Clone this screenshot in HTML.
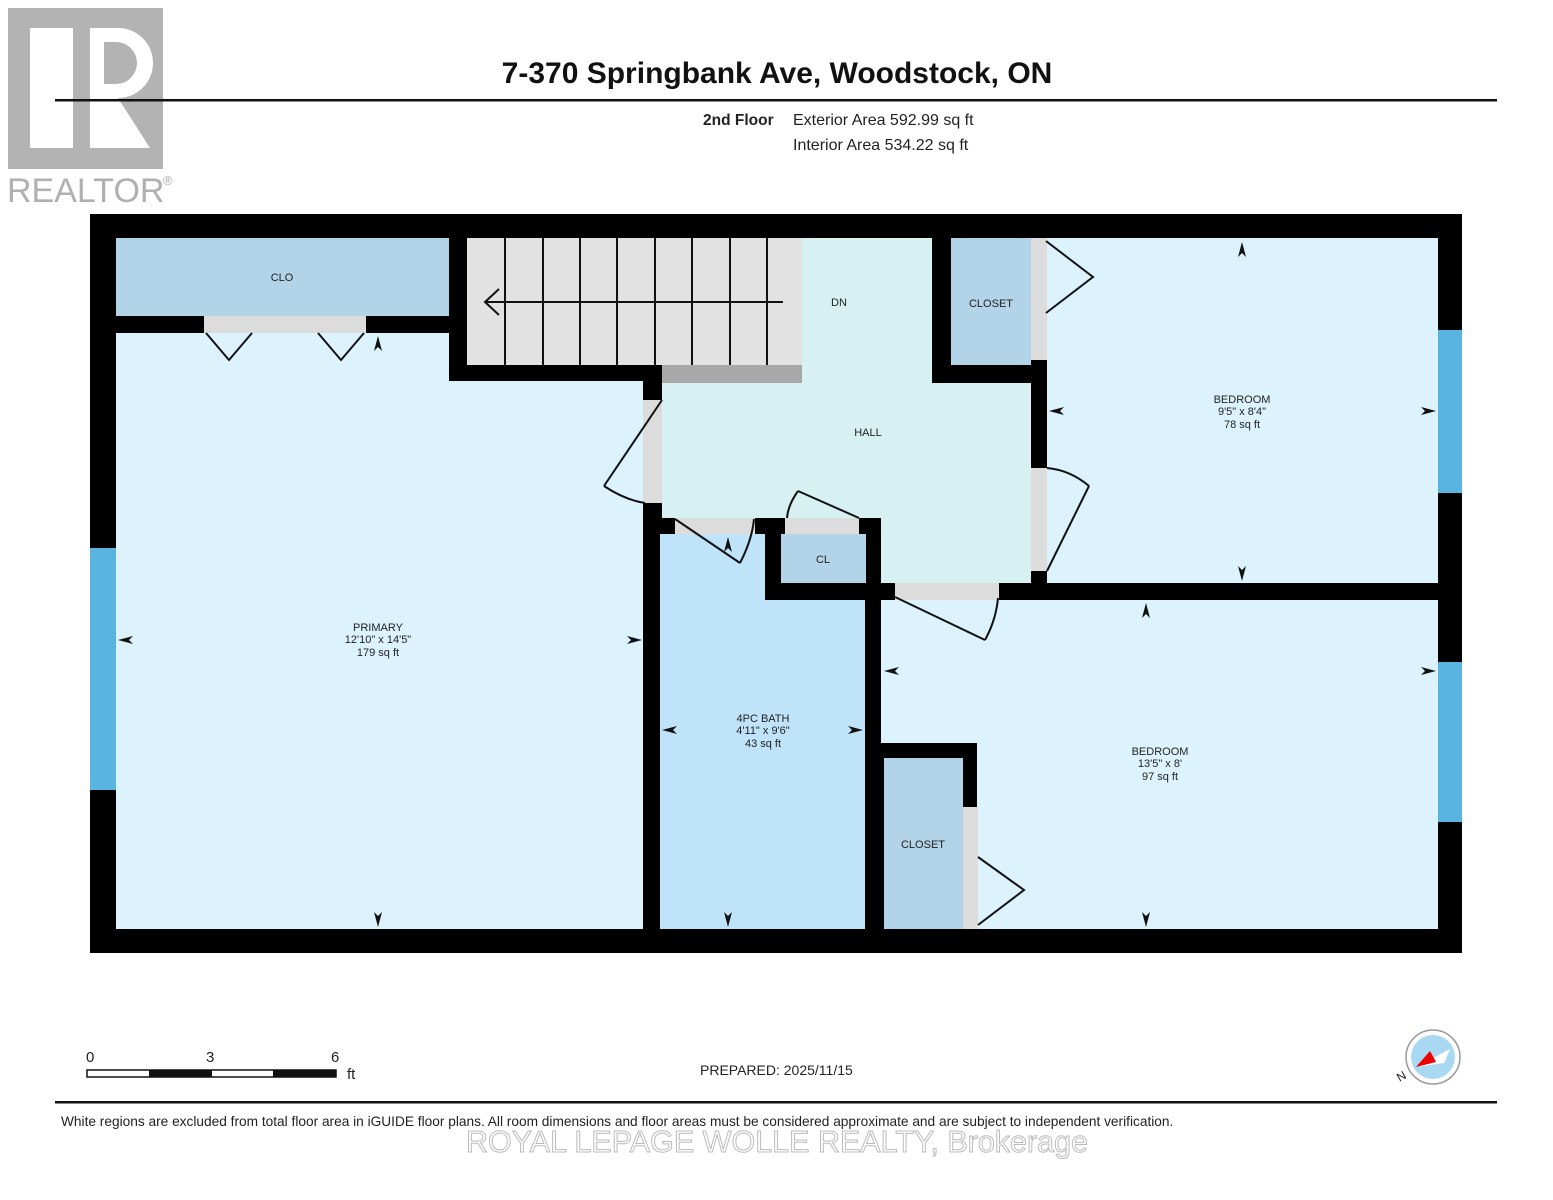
<!DOCTYPE html>
<html><head><meta charset="utf-8"><style>
html,body{margin:0;padding:0;background:#fff;}
svg{display:block;font-family:"Liberation Sans",Arial,sans-serif;}
</style></head><body>
<svg width="1553" height="1200" viewBox="0 0 1553 1200" xmlns="http://www.w3.org/2000/svg">
<rect width="1553" height="1200" fill="#fff"/>
<!-- Realtor logo -->
<rect x="8" y="8" width="155" height="161" fill="#b3b3b3"/>
<rect x="30" y="28" width="43" height="120" fill="#fff"/>
<path d="M90 28 H118 A35 35 0 0 1 118 98 L150 148 H90 Z" fill="#fff"/>
<path d="M104 42 H116 A21 21 0 0 1 116 84 H104 Z" fill="#b3b3b3"/>
<text x="7" y="202" font-size="34" fill="#b0b0b0">REALTOR</text>
<text x="163" y="185" font-size="13" fill="#b0b0b0">®</text>
<!-- header -->
<text x="777" y="83" font-size="30" font-weight="bold" text-anchor="middle" fill="#111">7-370 Springbank Ave, Woodstock, ON</text>
<rect x="55" y="99" width="1442" height="2.5" fill="#111"/>
<text x="703" y="125" font-size="15.5" font-weight="bold" fill="#222">2nd Floor</text>
<text x="793" y="125" font-size="16" fill="#222">Exterior Area 592.99 sq ft</text>
<text x="793" y="150" font-size="16" fill="#222">Interior Area 534.22 sq ft</text>
<!-- plan -->
<rect x="90" y="214" width="1372" height="739" fill="#000"/>
<!-- primary -->
<rect x="116" y="333" width="527" height="596" fill="#dcf2fd"/>
<rect x="449" y="316" width="194" height="65" fill="#000"/>
<rect x="116" y="238" width="333" height="78" fill="#b3d3e8"/>
<rect x="204" y="316" width="162" height="17" fill="#dcdcdc"/>
<rect x="90" y="548" width="26" height="242" fill="#5ab4e0"/>
<!-- stairs -->
<rect x="467" y="238" width="335" height="127" fill="#e2e2e2"/>
<rect x="662" y="365" width="140" height="18" fill="#a8a8a8"/>
<g stroke="#111" stroke-width="2">
<line x1="505" y1="238" x2="505" y2="365"/><line x1="543" y1="238" x2="543" y2="365"/>
<line x1="580" y1="238" x2="580" y2="365"/><line x1="617" y1="238" x2="617" y2="365"/>
<line x1="655" y1="238" x2="655" y2="365"/><line x1="692" y1="238" x2="692" y2="365"/>
<line x1="730" y1="238" x2="730" y2="365"/><line x1="767" y1="238" x2="767" y2="365"/>
<line x1="485" y1="302" x2="783" y2="302"/>
<polyline points="499,289 485,302 499,315" fill="none"/>
</g>
<!-- hall -->
<rect x="802" y="238" width="130" height="145" fill="#d7f1f2"/>
<rect x="662" y="383" width="369" height="135" fill="#d7f1f2"/>
<rect x="881" y="518" width="150" height="65" fill="#d7f1f2"/>
<rect x="643" y="400" width="19" height="103" fill="#dcdcdc"/>
<rect x="1031" y="468" width="16" height="103" fill="#dcdcdc"/>
<rect x="895" y="583" width="104" height="17" fill="#dcdcdc"/>
<!-- closet top -->
<rect x="951" y="238" width="80" height="127" fill="#b3d3e8"/>
<rect x="1031" y="238" width="16" height="122" fill="#dcdcdc"/>
<!-- bath -->
<rect x="660" y="534" width="205" height="395" fill="#bfe4fa"/>
<rect x="765" y="518" width="116" height="82" fill="#000"/>
<rect x="675" y="518" width="80" height="16" fill="#dcdcdc"/>
<rect x="785" y="518" width="74" height="16" fill="#dcdcdc"/>
<rect x="781" y="534" width="85" height="49" fill="#b3d3e8"/>
<!-- bedroom 1 -->
<rect x="1047" y="238" width="391" height="345" fill="#dcf2fd"/>
<rect x="1438" y="330" width="24" height="163" fill="#5ab4e0"/>
<!-- bedroom 2 -->
<rect x="881" y="600" width="557" height="329" fill="#dcf2fd"/>
<rect x="881" y="743" width="96" height="186" fill="#000"/>
<rect x="884" y="758" width="79" height="171" fill="#b3d3e8"/>
<rect x="963" y="807" width="15" height="122" fill="#dcdcdc"/>
<rect x="1438" y="662" width="24" height="160" fill="#5ab4e0"/>
<!-- door swings -->
<g stroke="#111" stroke-width="2" fill="none">
<polyline points="206,333 229,360 252,333"/>
<polyline points="318,333 341,360 364,333"/>
<line x1="662" y1="400" x2="604" y2="486"/><path d="M604 486 Q625 500 645 503"/>
<line x1="675" y1="519" x2="740" y2="563"/><path d="M740 563 Q752 540 754 519"/>
<line x1="859" y1="518" x2="798" y2="491"/><path d="M798 491 Q788 505 787 518"/>
<line x1="1047" y1="571" x2="1089" y2="486"/><path d="M1089 486 Q1070 470 1047 468"/>
<line x1="895" y1="597" x2="985" y2="640"/><path d="M985 640 Q996 620 998 598"/>
<polyline points="1046,241 1093,277 1046,313"/>
<polyline points="978,857 1024,890 978,925"/>
</g>
<!-- arrows -->
<g fill="#111">
<polygon points="378,336 374,351 378,347 382,351"/>
<polygon points="378,927 374,912 378,916 382,912"/>
<polygon points="118,640 133,636 129,640 133,644"/>
<polygon points="642,640 627,636 631,640 627,644"/>
<polygon points="1242,242 1238,257 1242,253 1246,257"/>
<polygon points="1242,581 1238,566 1242,570 1246,566"/>
<polygon points="1049,411 1064,407 1060,411 1064,415"/>
<polygon points="1436,411 1421,407 1425,411 1421,415"/>
<polygon points="1146,603 1142,618 1146,614 1150,618"/>
<polygon points="1146,927 1142,912 1146,916 1150,912"/>
<polygon points="884,671 899,667 895,671 899,675"/>
<polygon points="1436,671 1421,667 1425,671 1421,675"/>
<polygon points="728,537 724,552 728,548 732,552"/>
<polygon points="728,927 724,912 728,916 732,912"/>
<polygon points="662,730 677,726 673,730 677,734"/>
<polygon points="863,730 848,726 852,730 848,734"/>
</g>
<!-- labels -->
<g font-size="11" fill="#222" text-anchor="middle">
<text x="282" y="281">CLO</text>
<text x="839" y="306">DN</text>
<text x="991" y="307">CLOSET</text>
<text x="868" y="436">HALL</text>
<text x="823" y="563">CL</text>
<text x="1242" y="403">BEDROOM</text><text x="1242" y="415">9'5" x 8'4"</text><text x="1242" y="428">78 sq ft</text>
<text x="378" y="631">PRIMARY</text><text x="378" y="643">12'10" x 14'5"</text><text x="378" y="656">179 sq ft</text>
<text x="763" y="722">4PC BATH</text><text x="763" y="734">4'11" x 9'6"</text><text x="763" y="747">43 sq ft</text>
<text x="1160" y="755">BEDROOM</text><text x="1160" y="767">13'5" x 8'</text><text x="1160" y="780">97 sq ft</text>
<text x="923" y="848">CLOSET</text>
</g>
<!-- scale -->
<g font-size="15" fill="#222">
<text x="86" y="1062">0</text><text x="206" y="1062">3</text><text x="331" y="1062">6</text>
<text x="347" y="1079">ft</text>
</g>
<rect x="87" y="1070" width="249" height="7" fill="#fff" stroke="#111" stroke-width="1.5"/>
<rect x="149" y="1070" width="63" height="7" fill="#111"/>
<rect x="273" y="1070" width="63" height="7" fill="#111"/>
<text x="700" y="1075" font-size="14" fill="#222">PREPARED: 2025/11/15</text>
<!-- compass -->
<circle cx="1433" cy="1057" r="27" fill="#fff" stroke="#999" stroke-width="1.5"/>
<circle cx="1433" cy="1057" r="22" fill="#a9d8f2"/>
<polygon points="1416,1067 1450,1049 1444,1063" fill="#fff"/>
<polygon points="1416,1067 1430,1051 1436,1062" fill="#e00"/>
<text x="1397" y="1080" font-size="12" fill="#222" transform="rotate(-30 1402 1076)">N</text>
<rect x="55" y="1101" width="1442" height="2.5" fill="#111"/>
<text x="61" y="1126" font-size="13.7" fill="#222">White regions are excluded from total floor area in iGUIDE floor plans. All room dimensions and floor areas must be considered approximate and are subject to independent verification.</text>
<text x="777" y="1152" font-size="30.5" text-anchor="middle" fill="#fff" stroke="#bbb" stroke-width="1">ROYAL LEPAGE WOLLE REALTY, Brokerage</text>
</svg>
</body></html>
